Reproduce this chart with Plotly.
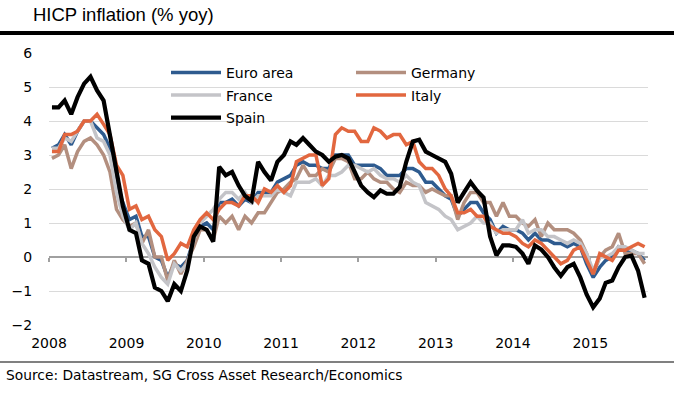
import plotly.graph_objects as go
import pandas as pd

# ---------------- data (monthly, Jan 2008 - Sep 2015, % yoy) ----------------
euro_area = [3.2, 3.3, 3.6, 3.3, 3.7, 4.0, 4.0, 3.8, 3.6, 3.2, 2.1, 1.6,
             1.1, 1.2, 0.6, 0.6, 0.0, -0.1, -0.6, -0.2, -0.3, -0.1, 0.5, 0.9,
             1.0, 0.8, 1.6, 1.6, 1.7, 1.5, 1.7, 1.6, 1.9, 1.9, 1.9, 2.2,
             2.3, 2.4, 2.7, 2.8, 2.7, 2.7, 2.6, 2.6, 3.0, 3.0, 3.0, 2.7,
             2.7, 2.7, 2.7, 2.6, 2.4, 2.4, 2.4, 2.6, 2.6, 2.5, 2.2, 2.2,
             2.0, 1.8, 1.7, 1.2, 1.4, 1.6, 1.6, 1.3, 1.1, 0.7, 0.9, 0.8,
             0.8, 0.7, 0.5, 0.7, 0.5, 0.5, 0.4, 0.4, 0.3, 0.4, 0.3, -0.2,
             -0.6, -0.3, -0.1, 0.0, 0.3, 0.2, 0.2, 0.1, -0.1]
germany = [2.9, 3.0, 3.3, 2.6, 3.1, 3.4, 3.5, 3.3, 3.0, 2.5, 1.4, 1.1,
           0.9, 1.0, 0.4, 0.8, 0.0, 0.0, -0.7, -0.1, -0.5, -0.1, 0.3, 0.8,
           0.8, 0.5, 1.2, 1.0, 1.2, 0.8, 1.2, 1.0, 1.3, 1.3, 1.6, 1.9,
           2.0, 2.2, 2.3, 2.7, 2.4, 2.4, 2.6, 2.5, 2.9, 2.9, 2.8, 2.3,
           2.3, 2.5, 2.3, 2.2, 2.2, 2.0, 1.9, 2.2, 2.1, 2.1, 1.9, 2.0,
           1.9, 1.8, 1.8, 1.1, 1.6, 1.9, 1.9, 1.6, 1.6, 1.2, 1.6, 1.2,
           1.2, 1.0, 0.9, 1.1, 0.6, 1.0, 0.8, 0.8, 0.8, 0.7, 0.5, 0.1,
           -0.5, 0.0, 0.2, 0.3, 0.7, 0.1, 0.1, 0.1, -0.2]
france = [3.2, 3.2, 3.5, 3.4, 3.7, 4.0, 4.0, 3.5, 3.4, 3.0, 1.9, 1.2,
          0.8, 1.0, 0.4, 0.1, -0.3, -0.6, -0.8, -0.2, -0.4, -0.2, 0.5, 1.0,
          1.2, 1.4, 1.7, 1.9, 1.9, 1.7, 1.9, 1.6, 1.8, 1.8, 1.8, 2.0,
          1.9, 1.8, 2.2, 2.2, 2.2, 2.3, 2.1, 2.4, 2.4, 2.5, 2.7, 2.7,
          2.6, 2.5, 2.6, 2.4, 2.3, 2.3, 2.2, 2.4, 2.2, 2.1, 1.6, 1.5,
          1.4, 1.2, 1.1, 0.8, 0.9, 1.0, 1.2, 1.0, 1.0, 0.7, 0.8, 0.8,
          0.8, 1.1, 0.7, 0.8, 0.8, 0.6, 0.6, 0.5, 0.4, 0.5, 0.4, 0.1,
          -0.4, 0.0, 0.0, 0.1, 0.3, 0.3, 0.2, 0.1, 0.1]
italy = [3.1, 3.1, 3.6, 3.6, 3.7, 4.0, 4.0, 4.2, 3.9, 3.6, 2.7, 2.4,
         1.4, 1.5, 1.1, 1.2, 0.8, 0.6, -0.1, 0.1, 0.4, 0.3, 0.8, 1.1,
         1.3, 1.1, 1.4, 1.6, 1.6, 1.5, 1.8, 1.8, 1.6, 2.0, 1.9, 2.1,
         1.9, 2.1, 2.8, 2.9, 3.0, 3.0, 2.1, 2.3, 3.6, 3.8, 3.7, 3.7,
         3.4, 3.4, 3.8, 3.7, 3.5, 3.6, 3.6, 3.3, 3.4, 2.8, 2.6, 2.6,
         2.4, 2.0, 1.8, 1.3, 1.3, 1.4, 1.2, 1.2, 0.9, 0.8, 0.7, 0.7,
         0.6, 0.4, 0.3, 0.5, 0.4, 0.2, 0.0, -0.2, -0.1, 0.2, 0.3, -0.1,
         -0.5, 0.1, 0.0, -0.1, 0.2, 0.2, 0.3, 0.4, 0.3]
spain = [4.4, 4.4, 4.6, 4.2, 4.7, 5.1, 5.3, 4.9, 4.6, 3.6, 2.4, 1.5,
         0.8, 0.7, -0.1, -0.2, -0.9, -1.0, -1.3, -0.8, -1.0, -0.4, 0.6, 0.9,
         0.8, 0.45, 2.65, 2.4, 2.5, 2.1, 1.8, 1.65, 2.8, 2.5, 2.25, 2.8,
         3.0, 3.4, 3.3, 3.5, 3.3, 3.1, 3.0, 2.8, 2.95, 3.0, 2.9, 2.5,
         2.1, 1.9, 1.76, 1.96, 1.86, 1.86, 2.06, 2.8, 3.4, 3.45, 3.1, 3.0,
         2.9, 2.8, 2.45, 1.6, 1.9, 2.2, 1.95, 1.75, 0.6, 0.05, 0.34, 0.34,
         0.3, 0.1, -0.2, 0.34, 0.22, 0.0, -0.3, -0.55, -0.3, -0.2, -0.6, -1.1,
         -1.48, -1.22, -0.76, -0.69, -0.3, 0.0, 0.04, -0.4, -1.2]

series_names = ["Euro area", "Germany", "France", "Italy", "Spain"]
year_labels = ["2008", "2009", "2010", "2011", "2012", "2013", "2014", "2015"]
y_ticks = [-2, -1, 0, 1, 2, 3, 4, 5, 6]

dates = pd.date_range("2008-01-01", periods=len(euro_area), freq="MS") + pd.Timedelta(days=14)

# ---------------- layout helpers ----------------
W, H = 674, 397
ML, MR, MT, MB = 49, 26, 53, 72
PW, PH = W - ML - MR, H - MT - MB


def px(x):
    return (x - ML) / PW


def py(y):
    return (H - MB - y) / PH


colors = ["#2E5B8F", "#B38F7F", "#C4C4C8", "#E2673F", "#000000"]
widths = [3.5, 3.5, 3.5, 3.5, 4.2]
values = [euro_area, germany, france, italy, spain]
legend_ids = ["legend", "legend2", "legend3", "legend4", "legend5"]
legend_pos = [(171, 73), (356, 73), (171, 95.5), (356, 95.5), (171, 118)]

fig = go.Figure()
for name, vals, col, w, lid in zip(series_names, values, colors, widths, legend_ids):
    fig.add_trace(go.Scatter(x=dates, y=vals, name=name, mode="lines",
                             line=dict(color=col, width=w), legend=lid))

# invisible helper trace so the zero-line axis is drawn
fig.add_trace(go.Scatter(x=[dates[0]], y=[0], xaxis="x2", mode="markers",
                         marker=dict(opacity=0), showlegend=False, hoverinfo="skip"))

font_main = "DejaVu Sans"
xrange = ["2008-01-01", "2015-10-01"]
tickvals = [f"{y}-01-01" for y in year_labels]

layout = dict(
    width=W, height=H,
    margin=dict(l=ML, r=MR, t=MT, b=MB, pad=0),
    paper_bgcolor="white", plot_bgcolor="white",
    showlegend=True,
    xaxis=dict(type="date", range=xrange, tickvals=tickvals, ticktext=year_labels,
               showgrid=False, zeroline=False, showline=False,
               ticks="outside", ticklen=5, tickcolor="rgba(0,0,0,0)",
               tickfont=dict(family=font_main, size=14, color="black")),
    xaxis2=dict(type="date", range=xrange, overlaying="x", anchor="free", position=0.25,
                tickvals=tickvals, showticklabels=False, showgrid=False, zeroline=False,
                ticks="outside", ticklen=4, tickwidth=1.5, tickcolor="#A0A0A0",
                showline=True, linecolor="#A0A0A0", linewidth=1.5, layer="below traces"),
    yaxis=dict(range=[-2, 6], tickvals=y_ticks, showgrid=True, gridcolor="#DADADA",
               gridwidth=1.2, zeroline=False, showline=False,
               ticks="outside", ticklen=13, tickcolor="rgba(0,0,0,0)",
               tickfont=dict(family=font_main, size=14, color="black")),
    shapes=[
        dict(type="line", xref="paper", yref="paper", x0=px(0), x1=px(W),
             y0=py(33), y1=py(33), line=dict(color="black", width=4)),
        dict(type="line", xref="paper", yref="paper", x0=px(0), x1=px(W),
             y0=py(362), y1=py(362), line=dict(color="#808080", width=2)),
    ],
    annotations=[
        dict(text="HICP inflation (% yoy)", xref="paper", yref="paper",
             x=px(31), y=py(14), xanchor="left", yanchor="middle", showarrow=False,
             font=dict(family="Liberation Sans", size=18.5, color="black")),
        dict(text="Source: Datastream, SG Cross Asset Research/Economics", xref="paper",
             yref="paper", x=px(4), y=py(375), xanchor="left", yanchor="middle",
             showarrow=False, font=dict(family=font_main, size=13.8, color="black")),
    ],
)
for lid, (lx, ly) in zip(legend_ids, legend_pos):
    layout[lid] = dict(x=px(lx - 5), y=py(ly), xanchor="left", yanchor="middle",
                       bgcolor="rgba(0,0,0,0)", borderwidth=0, itemwidth=50,
                       font=dict(family=font_main, size=14, color="black"))

fig.update_layout(**layout)
fig.write_html("out.html", config={"displayModeBar": False},
               post_script="document.body.style.margin='0';")
